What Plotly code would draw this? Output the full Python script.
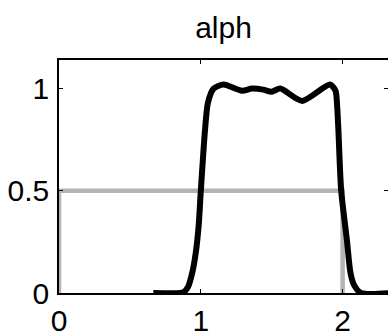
import plotly.graph_objects as go

# Gray reference step (x, y)
ref_x = [0, 0, 2, 2]
ref_y = [0, 0.5, 0.5, 0]

# Black estimated curve
est_x = [0.665, 0.85, 0.88, 0.91, 0.94, 0.965, 0.985, 1.0, 1.03, 1.05, 1.09, 1.16,
         1.29, 1.36, 1.44, 1.50, 1.56, 1.715, 1.91, 1.95, 1.96, 1.97, 1.99, 2.03,
         2.055, 2.08, 2.13, 2.35]
est_y = [0.0, 0.0, 0.005, 0.03, 0.1, 0.2, 0.33, 0.5, 0.8, 0.93, 1.0, 1.02,
         0.99, 1.0, 0.995, 0.985, 1.0, 0.94, 1.02, 0.99, 0.93, 0.8, 0.5, 0.26,
         0.1, 0.04, 0.0, 0.0]

x_ticks = [0, 1, 2]
y_ticks = [0, 0.5, 1]
y_tick_text = ["0", "0.5", "1"]

FONT = "Liberation Sans, Arial, Helvetica, sans-serif"

fig = go.Figure()
fig.add_trace(go.Scatter(x=ref_x, y=ref_y, mode="lines",
                         line=dict(color="#b4b4b4", width=4.5), hoverinfo="skip"))
fig.add_trace(go.Scatter(x=est_x, y=est_y, mode="lines",
                         line=dict(color="black", width=6, shape="spline", smoothing=0.7),
                         hoverinfo="skip"))

fig.update_layout(
    width=388, height=336,
    margin=dict(l=59, r=0, t=60, b=43),
    paper_bgcolor="white", plot_bgcolor="white",
    showlegend=False,
    font=dict(family=FONT, size=29, color="black"),
    title=dict(text="alph", x=(59 + 388) / 2 / 388, xanchor="center",
               y=1 - 27 / 336, yanchor="middle", yref="container",
               font=dict(family=FONT, size=30, color="black")),
)
fig.update_xaxes(range=[0, 2.32], tickvals=x_ticks, ticktext=[str(v) for v in x_ticks],
                 ticks="inside", ticklen=4, tickwidth=1, tickcolor="black",
                 showline=True, linecolor="black", linewidth=1.5, mirror="allticks",
                 showgrid=False, zeroline=False, automargin=False,
                 tickfont=dict(size=30), ticklabelstandoff=0)
fig.update_yaxes(range=[0, 1.14], tickvals=y_ticks, ticktext=y_tick_text,
                 ticks="inside", ticklen=4, tickwidth=1, tickcolor="black",
                 showline=True, linecolor="black", linewidth=1.5, mirror="ticks",
                 showgrid=False, zeroline=False, automargin=False,
                 tickfont=dict(size=30), ticklabelstandoff=2)

fig.write_html("out.html", config={"displayModeBar": False},
               post_script="document.body.style.margin='0';")
